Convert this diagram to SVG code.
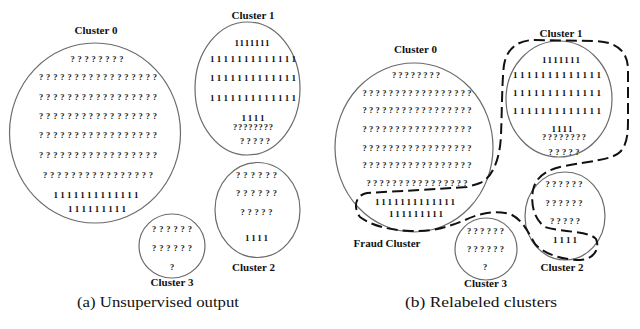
<svg xmlns="http://www.w3.org/2000/svg" width="640" height="329" viewBox="0 0 640 329">
<style>
.c{fill:none;stroke:#6b6b6b;stroke-width:1.2}
.lbl{font-family:"Liberation Serif",serif;font-weight:bold;font-size:11px;text-anchor:middle;fill:#111}
.q{font-family:"Liberation Serif",serif;font-weight:bold;font-size:8.5px;text-anchor:middle;fill:#222}
.o{font-family:"Liberation Serif",serif;font-weight:bold;font-size:9px;text-anchor:middle;fill:#111}
.cap{font-family:"Liberation Serif",serif;font-size:15.5px;text-anchor:middle;fill:#111}
.d{fill:none;stroke:#111;stroke-width:2;stroke-dasharray:11 5}
</style>
<rect width="640" height="329" fill="#fff"/>
<!-- Panel a -->
<g id="a-cluster0">
<ellipse class="c" cx="95" cy="133" rx="85.5" ry="90"/>
<text class="lbl" x="96" y="34">Cluster 0</text>
<text class="q" x="97" y="62" textLength="53" lengthAdjust="spacing">????????</text>
<text class="q" x="98" y="80" textLength="118" lengthAdjust="spacing">?????????????????</text>
<text class="q" x="98" y="100" textLength="118" lengthAdjust="spacing">?????????????????</text>
<text class="q" x="98" y="119" textLength="118" lengthAdjust="spacing">?????????????????</text>
<text class="q" x="98" y="138" textLength="118" lengthAdjust="spacing">?????????????????</text>
<text class="q" x="98" y="158" textLength="118" lengthAdjust="spacing">?????????????????</text>
<text class="q" x="98" y="178" textLength="110" lengthAdjust="spacing">????????????????</text>
<text class="o" x="96" y="197.5" textLength="85" lengthAdjust="spacing">1111111111111</text>
<text class="o" x="97" y="211.5" textLength="58" lengthAdjust="spacing">111111111</text>
</g>
<g id="a-cluster1">
<ellipse class="c" cx="247.5" cy="88.5" rx="52.5" ry="66.5"/>
<text class="lbl" x="253" y="19">Cluster 1</text>
<text class="o" x="252" y="45.5" textLength="35" lengthAdjust="spacing">1111111</text>
<text class="o" x="253" y="61.5" textLength="86" lengthAdjust="spacing">1111111111111</text>
<text class="o" x="253" y="80.5" textLength="86" lengthAdjust="spacing">1111111111111</text>
<text class="o" x="253" y="100.5" textLength="86" lengthAdjust="spacing">1111111111111</text>
<text class="o" x="253" y="120.5" textLength="23" lengthAdjust="spacing">1111</text>
<text class="q" x="253" y="130" textLength="40" lengthAdjust="spacing">????????</text>
<text class="q" x="255" y="144" textLength="30" lengthAdjust="spacing">?????</text>
</g>
<g id="a-cluster2">
<ellipse class="c" cx="257.5" cy="210" rx="42.5" ry="47.5"/>
<text class="lbl" x="253.5" y="270.5">Cluster 2</text>
<text class="q" x="256.5" y="178" textLength="41" lengthAdjust="spacing">??????</text>
<text class="q" x="256.5" y="196" textLength="41" lengthAdjust="spacing">??????</text>
<text class="q" x="256.5" y="215" textLength="32" lengthAdjust="spacing">?????</text>
<text class="o" x="256.5" y="240.5" textLength="23" lengthAdjust="spacing">1111</text>
</g>
<g id="a-cluster3">
<ellipse class="c" cx="172" cy="246" rx="33" ry="32"/>
<text class="lbl" x="172" y="286">Cluster 3</text>
<text class="q" x="172" y="232" textLength="40" lengthAdjust="spacing">??????</text>
<text class="q" x="172" y="251" textLength="40" lengthAdjust="spacing">??????</text>
<text class="q" x="172" y="270">?</text>
</g>
<text class="cap" x="158" y="307" textLength="162" lengthAdjust="spacingAndGlyphs">(a) Unsupervised output</text>
<!-- Panel b -->
<g id="b-cluster0">
<ellipse class="c" cx="414" cy="147.5" rx="79" ry="84.5"/>
<text class="lbl" x="415.5" y="53">Cluster 0</text>
<text class="q" x="416" y="78" textLength="48" lengthAdjust="spacing">????????</text>
<text class="q" x="417" y="96" textLength="109" lengthAdjust="spacing">?????????????????</text>
<text class="q" x="417" y="113" textLength="109" lengthAdjust="spacing">?????????????????</text>
<text class="q" x="417" y="132" textLength="109" lengthAdjust="spacing">?????????????????</text>
<text class="q" x="417" y="151" textLength="109" lengthAdjust="spacing">?????????????????</text>
<text class="q" x="417" y="168" textLength="109" lengthAdjust="spacing">?????????????????</text>
<text class="q" x="417" y="186" textLength="101" lengthAdjust="spacing">????????????????</text>
<text class="o" x="415" y="205" textLength="80" lengthAdjust="spacing">1111111111111</text>
<text class="o" x="416" y="216.5" textLength="54" lengthAdjust="spacing">111111111</text>
</g>
<g id="b-cluster1">
<ellipse class="c" cx="559" cy="99" rx="53" ry="58"/>
<text class="lbl" x="561" y="37">Cluster 1</text>
<text class="o" x="561" y="62.5" textLength="38" lengthAdjust="spacing">1111111</text>
<text class="o" x="557" y="77.5" textLength="88" lengthAdjust="spacing">1111111111111</text>
<text class="o" x="557" y="95.5" textLength="88" lengthAdjust="spacing">1111111111111</text>
<text class="o" x="557" y="113.5" textLength="88" lengthAdjust="spacing">1111111111111</text>
<text class="o" x="562" y="131.5" textLength="21" lengthAdjust="spacing">1111</text>
<text class="q" x="564" y="140" textLength="44" lengthAdjust="spacing">????????</text>
<text class="q" x="564" y="155" textLength="31" lengthAdjust="spacing">?????</text>
</g>
<g id="b-cluster2">
<ellipse class="c" cx="565" cy="216" rx="40" ry="44"/>
<text class="lbl" x="562" y="271">Cluster 2</text>
<text class="q" x="564" y="187" textLength="37" lengthAdjust="spacing">??????</text>
<text class="q" x="564" y="206" textLength="37" lengthAdjust="spacing">??????</text>
<text class="q" x="565" y="224" textLength="30" lengthAdjust="spacing">?????</text>
<text class="o" x="565" y="242.5" textLength="24" lengthAdjust="spacing">1111</text>
</g>
<g id="b-cluster3">
<ellipse class="c" cx="486" cy="249" rx="31" ry="31"/>
<text class="lbl" x="485.5" y="287">Cluster 3</text>
<text class="q" x="485.5" y="234" textLength="37" lengthAdjust="spacing">??????</text>
<text class="q" x="485.5" y="252" textLength="37" lengthAdjust="spacing">??????</text>
<text class="q" x="485" y="270">?</text>
</g>
<g id="b-fraud">
<text class="lbl" x="387" y="247">Fraud Cluster</text>
</g>
<g id="connectors">
<path class="d" d="M 467,187 C 440,189 400,191 367,193 C 355,195 353,208 360,217 C 372,226 390,230 410,231 C 435,232 450,226 465,220 C 480,213 495,210 510,214 C 522,219 528,232 535,244 C 545,255 565,260 580,260 C 595,259 600,248 596,239 C 590,231 560,232 545,227 C 532,218 531,200 533,190 C 536,176 548,169 565,166 C 590,161 612,160 620,152 C 628,144 628,130 628,120 L 628,70 C 628,52 618,42 595,41 L 535,40 C 518,40 507,48 504,65 C 502,80 502,110 501,135 C 500,160 492,178 480,183 C 475,185 470,186 467,187 Z"/>
</g>
<text class="cap" x="481" y="307" textLength="152" lengthAdjust="spacingAndGlyphs">(b) Relabeled clusters</text>
</svg>
